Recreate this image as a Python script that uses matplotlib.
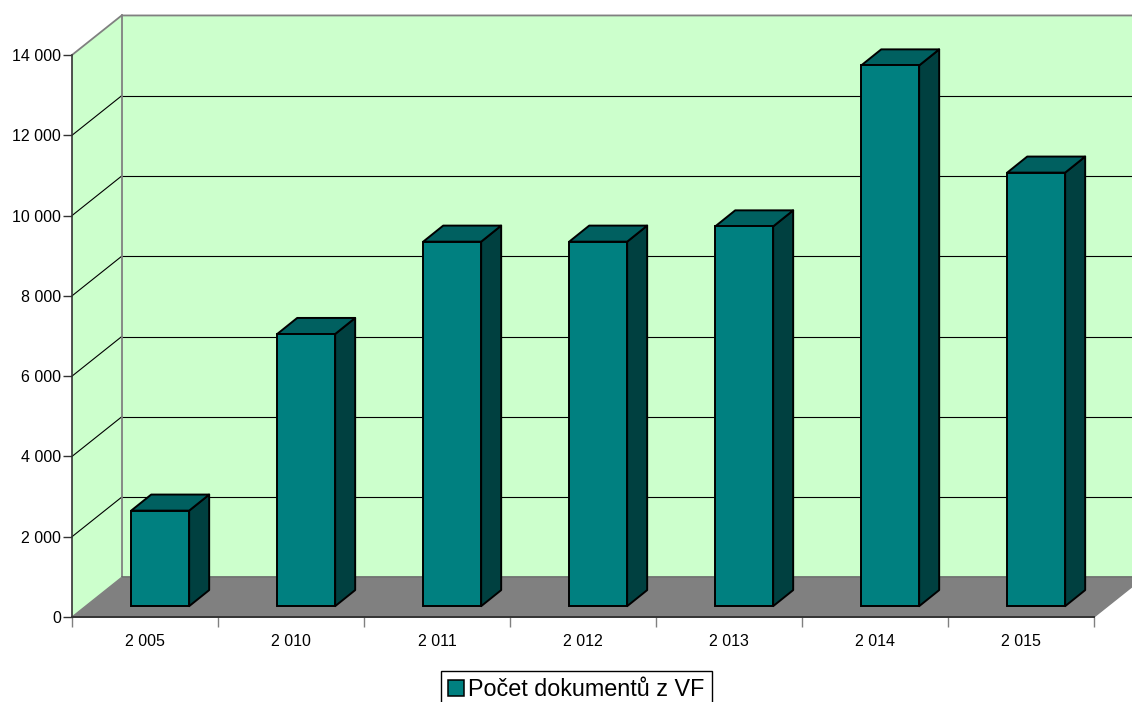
import matplotlib
matplotlib.use("Agg")
import matplotlib.pyplot as plt
from matplotlib.patches import Patch
from matplotlib.ticker import FuncFormatter

plt.rcParams['font.family'] = ['Liberation Sans', 'DejaVu Sans']

years = ['2 005', '2 010', '2 011', '2 012', '2 013', '2 014', '2 015']
documents = [2380, 6780, 9080, 9080, 9460, 13470, 10800]
y_ticks = [0, 2000, 4000, 6000, 8000, 10000, 12000, 14000]
legend_label = 'Počet dokumentů z VF'

# the fake 3d look, in data units
WALL_DX = 0.34
WALL_DY = 985
BAR_SHIFT_X = 0.104
BAR_SHIFT_Y = 270
BAR_W = 0.397
BAR_DX = 0.137
BAR_DY = 400

WALL = '#CCFFCC'
FLOOR = '#808080'
FRONT = '#008080'
SIDE = '#004040'
TOP = '#006060'

fig = plt.figure(figsize=(11.32, 7.02), dpi=100)
ax = fig.add_axes([72 / 1132, 1 - 617 / 702, 1022 / 1132, 562 / 702])
ax.set_xlim(-0.5, 6.5)
ax.set_ylim(0, 14000)
ax.patch.set_visible(False)

x0, x1 = ax.get_xlim()
y0, y1 = ax.get_ylim()

# left wall, back wall, floor
ax.fill([x0, x0 + WALL_DX, x0 + WALL_DX, x0],
        [y0, y0 + WALL_DY, y1 + WALL_DY, y1],
        fc=WALL, ec='none', clip_on=False, zorder=1)
ax.fill([x0 + WALL_DX, x1 + WALL_DX, x1 + WALL_DX, x0 + WALL_DX],
        [y0 + WALL_DY, y0 + WALL_DY, y1 + WALL_DY, y1 + WALL_DY],
        fc=WALL, ec='none', clip_on=False, zorder=1)
ax.fill([x0, x1, x1 + WALL_DX, x0 + WALL_DX],
        [y0, y0, y0 + WALL_DY, y0 + WALL_DY],
        fc=FLOOR, ec='none', clip_on=False, zorder=1)

# gridlines on both walls
for v in y_ticks[1:-1]:
    ax.plot([x0, x0 + WALL_DX], [v, v + WALL_DY], color='black', lw=0.8,
            clip_on=False, zorder=2)
    ax.plot([x0 + WALL_DX, x1 + WALL_DX], [v + WALL_DY, v + WALL_DY],
            color='black', lw=0.8, clip_on=False, zorder=2)

# grey outline of the walls
ax.plot([x0, x0 + WALL_DX, x1 + WALL_DX], [y1, y1 + WALL_DY, y1 + WALL_DY],
        color='#808080', lw=1.3, clip_on=False, zorder=3)
ax.plot([x0 + WALL_DX, x0 + WALL_DX], [y0 + WALL_DY, y1 + WALL_DY],
        color='#808080', lw=1.3, clip_on=False, zorder=3)
ax.plot([x0 + WALL_DX, x1 + WALL_DX], [y0 + WALL_DY, y0 + WALL_DY],
        color='#666666', lw=1.2, clip_on=False, zorder=3)
ax.plot([x0, x0 + WALL_DX], [y0, y0 + WALL_DY], color='#808080', lw=1,
        clip_on=False, zorder=3)
ax.plot([x1, x1 + WALL_DX], [y0, y0 + WALL_DY], color='#808080', lw=1,
        clip_on=False, zorder=3)

# bars: front through ax.bar, then the side and top faces
for i, val in enumerate(documents):
    left = i - BAR_W / 2 + BAR_SHIFT_X
    right = left + BAR_W
    base = BAR_SHIFT_Y
    top = base + val
    ax.fill([right, right + BAR_DX, right + BAR_DX, right],
            [base, base + BAR_DY, top + BAR_DY, top],
            fc=SIDE, ec='black', lw=1.4, joinstyle='round', clip_on=False, zorder=4)
    ax.fill([left, right, right + BAR_DX, left + BAR_DX],
            [top, top, top + BAR_DY, top + BAR_DY],
            fc=TOP, ec='black', lw=1.4, joinstyle='round', clip_on=False, zorder=4)
    ax.bar(i + BAR_SHIFT_X, val, width=BAR_W, bottom=base, color=FRONT,
           edgecolor='black', linewidth=1.4, zorder=5)

for name in ['top', 'right']:
    ax.spines[name].set_visible(False)
ax.spines['left'].set_color('#333333')
ax.spines['left'].set_linewidth(1.2)
ax.spines['left'].set_zorder(3)
ax.spines['bottom'].set_color('#333333')
ax.spines['bottom'].set_linewidth(1.4)
ax.spines['bottom'].set_zorder(3)

ax.set_yticks(y_ticks)
ax.yaxis.set_major_formatter(FuncFormatter(lambda v, p: f'{int(v):,}'.replace(',', ' ')))
ax.tick_params(axis='y', length=6.3, width=1, color='#333333', labelsize=11.5, pad=1.5)

# ticks between categories, labels centred under them
ax.set_xticks([i - 0.5 for i in range(len(years) + 1)])
ax.set_xticklabels([])
ax.tick_params(axis='x', length=7.5, width=1, color='#808080')
for i, lab in enumerate(years):
    ax.annotate(lab, (i, 0), xytext=(0, -12.5), textcoords='offset points',
                ha='center', va='top', fontsize=11.5, color='black', annotation_clip=False)

fig.legend(handles=[Patch(fc=FRONT, ec='black', lw=1.1, label=legend_label)],
           loc='upper left', bbox_to_anchor=(441 / 1132, 1 - 671 / 702),
           fontsize=16.8, frameon=True, fancybox=False, framealpha=1, edgecolor='black',
           handlelength=0.65, handleheight=0.65, handletextpad=0.2,
           borderpad=0.32, borderaxespad=0)

fig.savefig('out.png', dpi=100)
